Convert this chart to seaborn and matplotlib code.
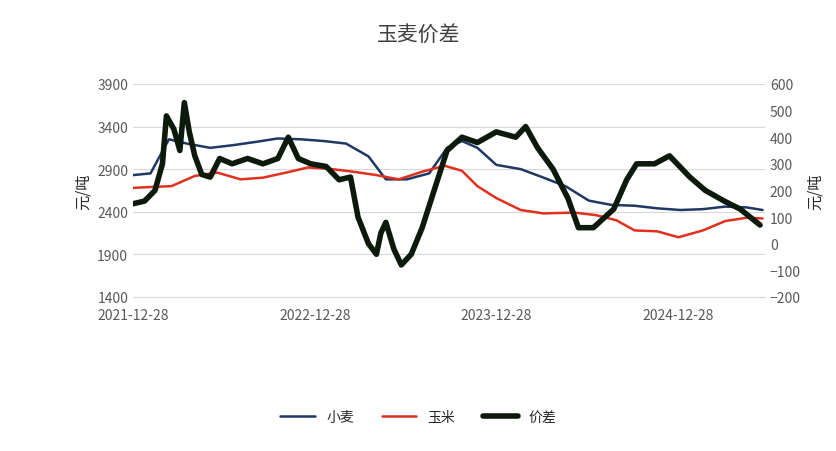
import matplotlib
matplotlib.use("Agg")
import matplotlib.pyplot as plt
import matplotlib.dates as mdates
import seaborn as sns
import pandas as pd

sns.set_style("white")
plt.rcParams['font.family'] = ['Noto Sans CJK SC', 'DejaVu Sans']

wheat_dates = ["2021-12-28","2022-02-01","2022-03-10","2022-04-15","2022-06-01","2022-07-15","2022-09-01","2022-10-15","2022-12-01","2023-01-15","2023-03-01","2023-04-15","2023-05-20","2023-07-01","2023-08-15","2023-09-20","2023-10-20","2023-11-20","2023-12-28","2024-02-15","2024-04-01","2024-05-15","2024-07-01","2024-08-15","2024-10-01","2024-11-15","2025-01-01","2025-02-15","2025-04-01","2025-05-15","2025-06-15"]
wheat = [2830,2850,3250,3200,3150,3180,3220,3260,3250,3230,3200,3050,2780,2780,2850,3150,3230,3150,2950,2900,2800,2700,2530,2480,2470,2440,2420,2430,2460,2450,2420]

corn_dates = ["2021-12-28","2022-02-01","2022-03-15","2022-05-01","2022-06-15","2022-08-01","2022-09-15","2022-11-01","2022-12-15","2023-02-01","2023-03-15","2023-05-01","2023-06-15","2023-08-01","2023-09-15","2023-10-20","2023-11-20","2023-12-28","2024-02-15","2024-04-01","2024-06-01","2024-07-15","2024-08-25","2024-10-01","2024-11-15","2024-12-28","2025-02-15","2025-04-01","2025-05-15","2025-06-15"]
corn = [2680,2690,2700,2820,2860,2780,2800,2860,2920,2900,2870,2830,2780,2870,2940,2880,2700,2560,2420,2380,2390,2360,2300,2180,2170,2100,2180,2290,2330,2320]

spread_dates = ["2021-12-28","2022-01-20","2022-02-10","2022-02-25","2022-03-05","2022-03-20","2022-04-01","2022-04-10","2022-04-20","2022-05-01","2022-05-15","2022-06-01","2022-06-20","2022-07-15","2022-08-15","2022-09-15","2022-10-15","2022-11-05","2022-11-25","2022-12-20","2023-01-20","2023-02-15","2023-03-10","2023-03-25","2023-04-15","2023-05-01","2023-05-10","2023-05-20","2023-06-05","2023-06-20","2023-07-10","2023-08-01","2023-08-25","2023-09-20","2023-10-20","2023-11-20","2023-12-28","2024-02-05","2024-02-25","2024-03-20","2024-04-20","2024-05-20","2024-06-10","2024-07-10","2024-08-20","2024-09-15","2024-10-05","2024-11-10","2024-12-10","2025-01-20","2025-02-20","2025-03-30","2025-05-01","2025-06-10"]
spread = [150,160,200,300,480,430,350,530,420,330,260,250,320,300,320,300,320,400,320,300,290,240,250,100,0,-40,40,80,-20,-80,-40,60,200,350,400,380,420,400,440,360,280,170,60,60,130,240,300,300,330,250,200,160,130,70]

df_w = pd.DataFrame({"date": pd.to_datetime(wheat_dates), "v": wheat})
df_c = pd.DataFrame({"date": pd.to_datetime(corn_dates), "v": corn})
df_s = pd.DataFrame({"date": pd.to_datetime(spread_dates), "v": spread})

fig = plt.figure(figsize=(8.37, 4.52), dpi=100)
ax = fig.add_axes([0.159, 0.341, 0.755, 0.471])
ax2 = ax.twinx()

sns.lineplot(data=df_w, x="date", y="v", ax=ax, color="#1f3864", lw=1.8, label="小麦", legend=False)
sns.lineplot(data=df_c, x="date", y="v", ax=ax, color="#e0301e", lw=1.8, label="玉米", legend=False)
sns.lineplot(data=df_s, x="date", y="v", ax=ax2, color="#0b1a0b", lw=4, label="价差", legend=False)

ax.set_ylim(1400, 3900)
ax.set_yticks(range(1400, 3901, 500))
ax2.set_ylim(-200, 600)
ax2.set_yticks(range(-200, 601, 100))
ax.set_xlim(pd.Timestamp("2021-12-28"), pd.Timestamp("2025-06-20"))
ticks = pd.to_datetime(["2021-12-28", "2022-12-28", "2023-12-28", "2024-12-28"])
ax.set_xticks(ticks)
ax.xaxis.set_major_formatter(mdates.DateFormatter("%Y-%m-%d"))
ax.grid(axis="y", color="#d9d9d9", lw=0.8)
for a in (ax, ax2):
    for s in a.spines.values():
        s.set_visible(False)
    a.tick_params(labelsize=10, labelcolor="#595959", length=0)
ax.tick_params(axis="x", pad=8)
ax.spines["bottom"].set_visible(True)
ax.spines["bottom"].set_color("#d9d9d9")
ax.set_xlabel("")
ax.set_ylabel("元/吨", fontsize=11)
ax2.set_ylabel("元/吨", fontsize=11)
fig.text(0.5, 0.91, "玉麦价差", ha="center", fontsize=15, color="#404040")

h1, l1 = ax.get_legend_handles_labels()
h2, l2 = ax2.get_legend_handles_labels()
fig.legend(h1 + h2, l1 + l2, loc="center", bbox_to_anchor=(0.5, 0.075), ncol=3, frameon=False, fontsize=10, handlelength=2.5)
fig.savefig("out.png", dpi=100)
